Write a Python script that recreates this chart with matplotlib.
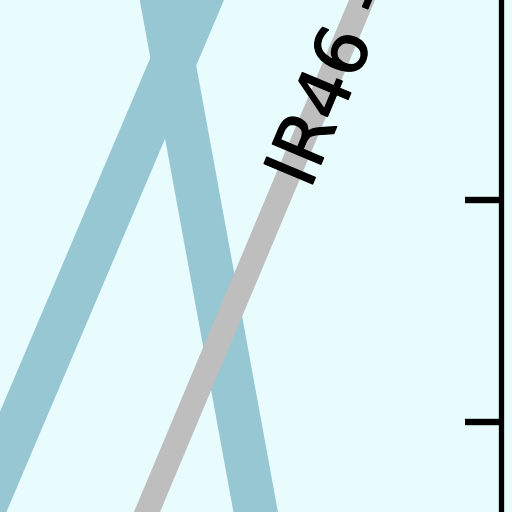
import numpy as np
import matplotlib
matplotlib.use("Agg")
import matplotlib.pyplot as plt
from matplotlib.patches import Polygon
import matplotlib.patheffects as pe

# ---- data (slopegraph: value at left column x=0 and right column x=1)
series_names = ["A", "B", "IR46"]
start_values = [-4.538, 19.26, -6.374]
end_values = [6.106, -5.461, 4.397]
series_colors = ["#96c7d3", "#96c7d3", "#bebebe"]
series_widths = [32.5, 31.5, 17.3]
label_text = "IR46 -"
label_x = 0.7856
ytick_values = [1.0, 2.0]

bg = "#e8fbfd"
W = 512.0
fig = plt.figure(figsize=(5.12, 5.12), dpi=100, facecolor=bg)
ext = 100.0
ax = fig.add_axes([-ext / W, -ext / W, (501 + ext) / W, (W + 2 * ext) / W])
ax.set_facecolor(bg)
ax.set_xlim((501 - ext) / 1002, 1)
ax.set_ylim(1 + (421.5 - (W + ext)) / 221.5, 1 + (421.5 + ext) / 221.5)

xs = [0, 1]
for name, s, e, c, w in zip(series_names, start_values, end_values, series_colors, series_widths):
    # open polygon with zero-area face: stroked like a line (avoids canvas-edge caps)
    ln = Polygon(np.column_stack([xs, [s, e]]), closed=False, facecolor=c, edgecolor=c,
                 lw=w, capstyle="butt", zorder=3 if name == "IR46" else 2)
    ax.add_patch(ln)

# label along the grey line
gs, ge = start_values[2], end_values[2]
ly = gs + (ge - gs) * label_x
p0 = ax.transData.transform((0, gs))
p1 = ax.transData.transform((1, ge))
ang = np.degrees(np.arctan2(p1[1] - p0[1], p1[0] - p0[0]))
off = 18.5
ux, uy = np.sin(np.radians(ang)), -np.cos(np.radians(ang))
ax.annotate(label_text, (label_x, ly), xytext=(off * ux, off * uy), textcoords="offset points",
            rotation=ang, rotation_mode="anchor", ha="left", va="baseline",
            fontsize=52, family="DejaVu Sans", color="black", zorder=5,
            path_effects=[pe.withStroke(linewidth=0.9, foreground="black")])

for sp in ["left", "top", "bottom"]:
    ax.spines[sp].set_visible(False)
ax.spines["right"].set_linewidth(3.8)
ax.spines["right"].set_color("black")
ax.set_xticks([])
ax.yaxis.tick_right()
ax.set_yticks(ytick_values)
ax.tick_params(axis="y", direction="in", length=26, width=4.6, color="black", labelright=False)

fig.savefig("out.png", dpi=100, facecolor=bg)
